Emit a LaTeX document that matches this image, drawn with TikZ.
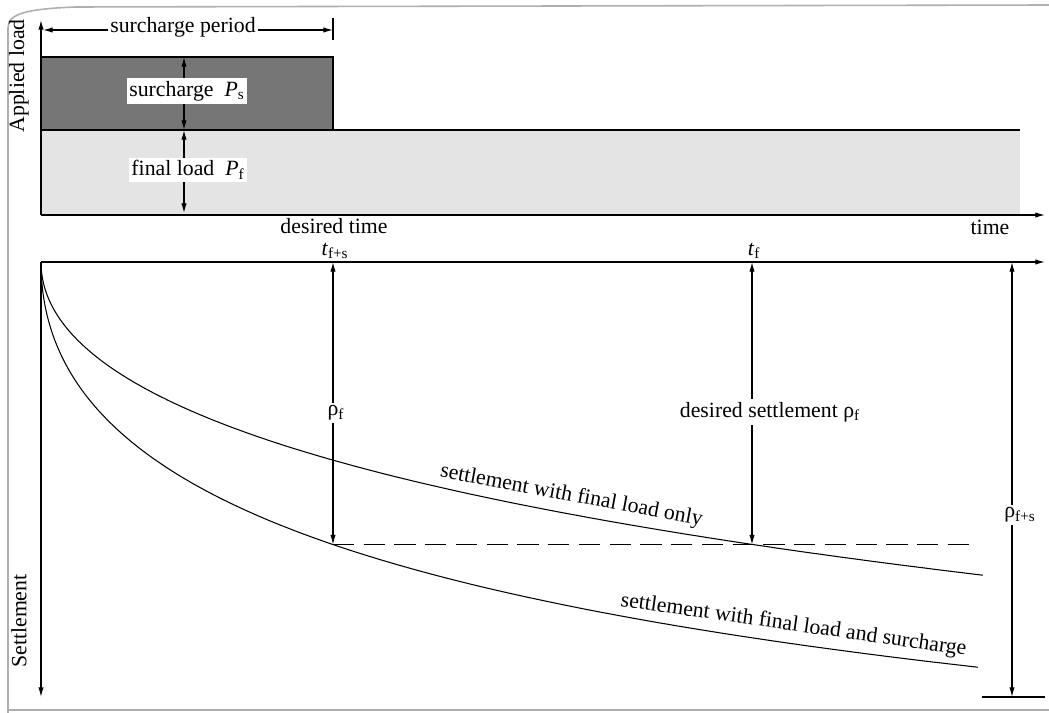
\documentclass[tikz,border=0pt]{standalone}
\usepackage{fontspec}
\setmainfont{Liberation Serif}
\usetikzlibrary{arrows.meta}
\definecolor{darkload}{RGB}{118,118,118}
\definecolor{lightload}{RGB}{228,228,228}
\definecolor{scanborder}{RGB}{175,175,175}
\begin{document}
\begin{tikzpicture}[x=0.02cm,y=-0.02cm,
  font=\fontsize{12.4}{14}\selectfont,
  ln/.style={line width=0.6pt},
  arr/.style={ln,-{Latex[length=5.5pt,width=3pt]}},
  darr/.style={ln,{Latex[length=5.5pt,width=3pt]}-{Latex[length=5.5pt,width=3pt]}},
  lbl/.style={fill=white, inner sep=1.5pt},
  txt/.style={inner sep=0pt},
  scan/.style={draw=scanborder, line width=0.9pt}]
\useasboundingbox (0,0) rectangle (1049,713);
% scan border
\draw[scan] (8,713) -- (8,28) .. controls (8,14) and (25,9) .. (75,7) -- (1049,5);
\draw[scan] (8,710) -- (1049,710);

% ---------- applied load panel ----------
\coordinate (L0) at (41,215);
\coordinate (Ltop) at (41,20);
\coordinate (Lend) at (1045,215);
\fill[lightload] (41,130) rectangle (1020,215);
\fill[darkload] (41,57) rectangle (333,130);
\draw[ln] (41,57) -- (333,57) -- (333,130);
\draw[ln] (41,130) -- (1020,130);
\draw[arr] (L0) -- (Ltop);
\draw[arr] (L0) -- (Lend);

% surcharge period dimension
\coordinate (SPa) at (43,30);
\coordinate (SPb) at (333,30);
\coordinate (SPt1) at (333,18);
\coordinate (SPt2) at (333,40);
\draw[ln] (SPt1) -- (SPt2);
\draw[darr] (SPa) -- (SPb);
\node[lbl] (sp) at (183,27) {surcharge period};

% load arrows
\coordinate (Pa) at (184,57);
\coordinate (Pb) at (184,130);
\coordinate (Pc) at (184,213);
\draw[darr] (Pa) -- (Pb);
\draw[darr] (Pb) -- (Pc);
\node[lbl] (ps) at (187,91) {surcharge\enspace\textit{P}\textsubscript{s}};
\node[lbl] (pf) at (188,170) {final load\enspace\textit{P}\textsubscript{f}};

\node[rotate=90, txt] (al) at (19,76) {Applied load};
\node[txt] (dt) at (334,226) {desired time};
\node[txt] (tm) at (990,227) {time};

% ---------- settlement panel ----------
\coordinate (S0) at (41,262);
\coordinate (Send) at (1045,262);
\coordinate (Sdown) at (41,697);
\draw[arr] (S0) -- (Send);
\draw[arr] (S0) -- (Sdown);
\node[rotate=90, txt] (st) at (19,621) {Settlement};

\node[txt] (tfs) at (335,251) {\textit{t}\textsubscript{f+s}};
\node[txt] (tf) at (754,251) {\textit{t}\textsubscript{f}};

% curves
\draw[ln] plot[domain=0:30.69, samples=200, variable=\s] ({41+\s*\s}, {262+671*(1-exp(-0.0205*\s))});
\draw[ln] plot[domain=0:30.61, samples=200, variable=\s] ({41+\s*\s}, {262+583*(1-exp(-0.0388*\s))});

\coordinate (Da) at (333,544.6);
\coordinate (Db) at (752,544.6);
\coordinate (Dc) at (975,544.6);
\draw[ln, dash pattern=on 12pt off 5.5pt] (Da) -- (Dc);

\coordinate (Ta) at (333,262);
\coordinate (Tb) at (752,262);
\draw[darr] (Ta) -- (Da);
\draw[darr] (Tb) -- (Db);
\node[lbl] (rf) at (336,413) {ρ\textsubscript{f}};
\node[lbl] (ds) at (770,412) {desired settlement ρ\textsubscript{f}};

\coordinate (Ra) at (1012,262);
\coordinate (Rb) at (1012,697);
\coordinate (Rt1) at (982,697);
\coordinate (Rt2) at (1045,697);
\draw[darr] (Ra) -- (Rb);
\draw[ln] (Rt1) -- (Rt2);
\node[lbl] (rfs) at (1020,515) {ρ\textsubscript{f+s}};

% curve labels
\node[rotate=-10.6, anchor=south, inner sep=4.5pt] (c1) at (568,514) {settlement with final load only};
\node[rotate=-8.1, anchor=south, inner sep=4.5pt] (c2) at (791,643.6) {settlement with final load and surcharge};
\end{tikzpicture}
\end{document}
